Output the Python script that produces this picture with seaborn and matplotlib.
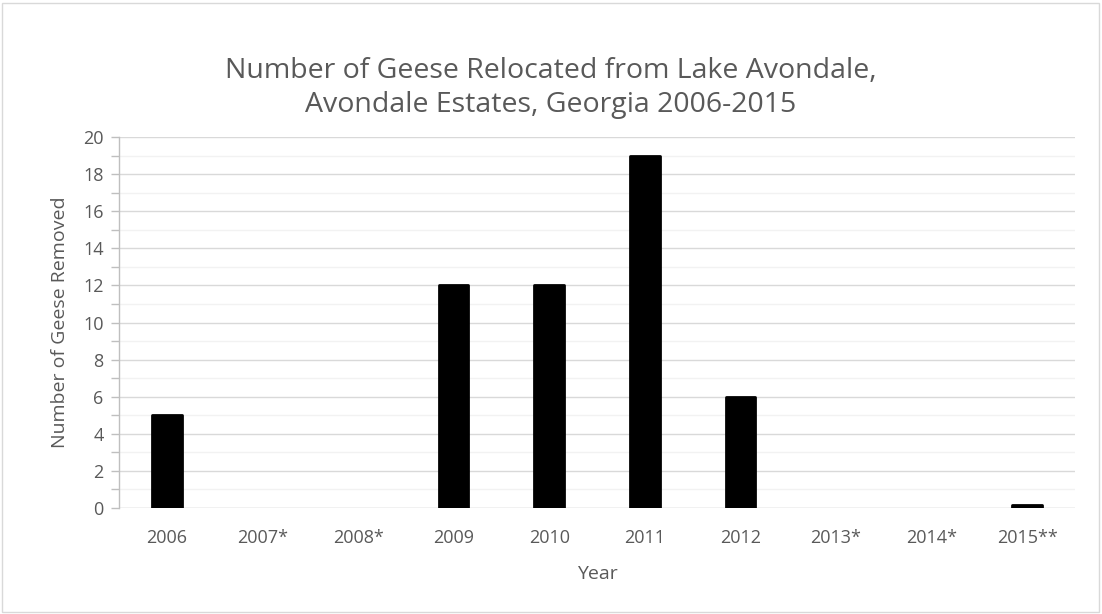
import matplotlib
matplotlib.use("Agg")
import matplotlib.pyplot as plt
from matplotlib.patches import Rectangle
from matplotlib.ticker import MultipleLocator
import seaborn as sns
import pandas as pd

years = ["2006", "2007*", "2008*", "2009", "2010", "2011", "2012", "2013*", "2014*", "2015**"]
geese_removed = [5, 0, 0, 12, 12, 19, 6, 0, 0, 0.15]

title = "Number of Geese Relocated from Lake Avondale,\nAvondale Estates, Georgia 2006-2015"
x_label = "Year"
y_label = "Number of Geese Removed"

text_grey = "#595959"

sns.set_theme(style="white")
plt.rcParams["font.family"] = ["Open Sans", "DejaVu Sans"]

df = pd.DataFrame({"year": years, "removed": geese_removed})

fig = plt.figure(figsize=(11.02, 6.14), dpi=100)
ax = fig.add_axes([119 / 1102, 1 - 508 / 614, (1075 - 119) / 1102, (508 - 137) / 614])

sns.barplot(data=df, x="year", y="removed", color="black", width=0.31,
            saturation=1, ax=ax, zorder=3)
for p in ax.patches:
    if p.get_height() > 0:
        p.set_edgecolor("black")
        p.set_linewidth(2.0)
        p.set_joinstyle("round")
    else:
        p.set_linewidth(0)

ax.set_ylim(0, 20)
ax.set_xlim(-0.5, len(years) - 0.5)
ax.yaxis.set_major_locator(MultipleLocator(2))
ax.yaxis.set_minor_locator(MultipleLocator(1))
ax.grid(axis="y", which="major", color="#d9d9d9", linewidth=1.0, zorder=0)
ax.grid(axis="y", which="minor", color="#f2f2f2", linewidth=1.0, zorder=0)
ax.set_axisbelow(True)

for side in ["top", "right", "bottom"]:
    ax.spines[side].set_visible(False)
ax.spines["left"].set_color("#bfbfbf")
ax.spines["left"].set_linewidth(1.0)
ax.axhline(0, color="#d9d9d9", linewidth=1.0, zorder=1)

ax.tick_params(axis="y", which="both", left=True, direction="out", color="#bfbfbf",
               length=6, width=1, labelsize=13, labelcolor=text_grey, pad=5)
ax.tick_params(axis="x", bottom=False, labelsize=13, labelcolor=text_grey, pad=9)

ax.set_xlabel(x_label, fontsize=14, color=text_grey, labelpad=13)
ax.set_ylabel(y_label, fontsize=14, color=text_grey, labelpad=10)

fig.text(0.5, 1 - 88 / 614, title, ha="center", va="center", fontsize=20.5,
         color=text_grey, linespacing=1.25)

fig.patches.append(Rectangle((2 / 1102, 2 / 614), 1097 / 1102, 609 / 614,
                             transform=fig.transFigure, fill=False,
                             edgecolor="#d9d9d9", linewidth=1.0))

fig.savefig("out.png", dpi=100, facecolor="white")
